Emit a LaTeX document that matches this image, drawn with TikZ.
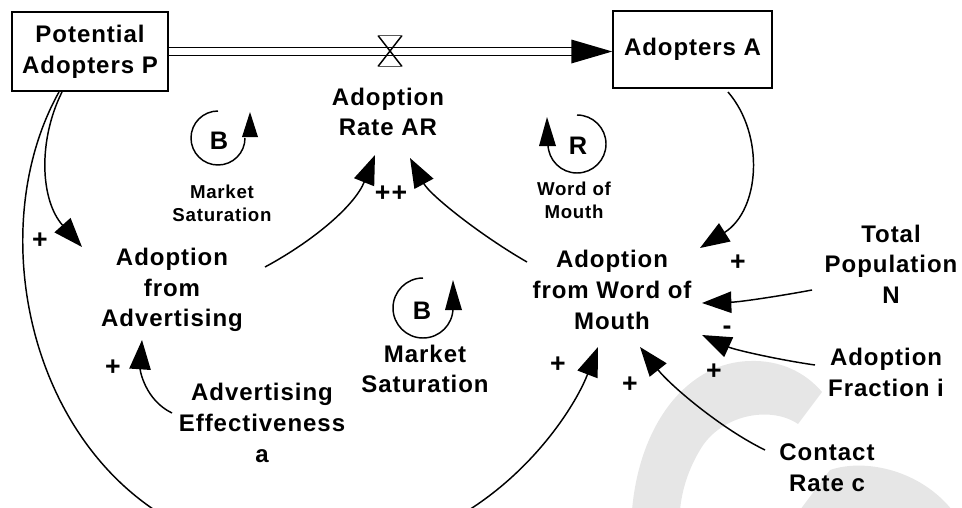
\documentclass[tikz,border=0pt]{standalone}
\usepackage{fontspec}
\newfontfamily\dgfont{Liberation Sans}[LetterSpace=4]
\newcommand\dgmain{\dgfont\bfseries\fontsize{18}{23}\selectfont}
\newcommand\dgsmall{\dgfont\bfseries\fontsize{14}{17}\selectfont}
\newcommand\dgpol{\dgfont\bfseries\fontsize{20}{22}\selectfont}
\newcommand\dgloop{\dgfont\bfseries\fontsize{19}{22}\selectfont}
\usetikzlibrary{arrows.meta,calc}
\definecolor{wmgray}{HTML}{E6E6E6}
\begin{document}
\begin{tikzpicture}[x=0.75pt,y=-0.75pt,
  stock/.style={draw, line width=1.1pt, inner sep=0pt, align=center, font=\dgmain},
  var/.style={align=center, font=\dgmain, inner sep=1pt},
  small/.style={align=center, font=\dgsmall, inner sep=1pt},
  pol/.style={font=\dgpol, inner sep=0pt},
  loopletter/.style={font=\dgloop, inner sep=0pt},
  cld/.style={line width=1.1pt, -{Triangle[length=22pt,width=16pt]}},
  loopline/.style={line width=1.1pt},
  pipe/.style={double, line width=1.1pt, double distance=4.6pt}]
\useasboundingbox (0,0) rectangle (962,507);
% watermark
\begin{scope}
  \clip (0,0) rectangle (962,507);
  \fill[wmgray] (632,510) .. controls (640,420) and (690,362) .. (750,361)
     .. controls (780,360) and (805,372) .. (822,392) -- (798,424)
     .. controls (770,405) and (720,415) .. (700,450)
     .. controls (688,470) and (682,490) .. (680,510) -- cycle;
  \fill[wmgray] (800,510) -- (830,470) .. controls (865,458) and (920,470) .. (952,510) -- cycle;
\end{scope}
% stocks
\node[stock, minimum width=117pt, minimum height=59.25pt] (pap) at (90,51.5) {Potential\\Adopters P};
\node[stock, minimum width=119.25pt, minimum height=57.75pt] (aa) at (692.5,49.5) {Adopters A};
% flow
\coordinate (flowtip) at (pap.east -| aa.west);
\draw[pipe] (pap.east) -- ($(flowtip)+(-38,0)$);
\fill ($(flowtip)+(-41,-12)$) -- (flowtip) -- ($(flowtip)+(-41,12)$) -- cycle;
\coordinate (valve) at (390,51.5);
\draw[line width=1.1pt] ($(valve)+(-12,-16)$) -- ($(valve)+(12,15)$)
                        ($(valve)+(12,-16)$) -- ($(valve)+(-12,15)$);
\draw[black!65, line width=0.8pt] ($(valve)+(-12,-16)$) -- ($(valve)+(12,-16)$)
                        ($(valve)+(-12,15)$) -- ($(valve)+(12,15)$);
% variables
\node[var] (ar) at (388,112) {Adoption\\Rate AR};
\node[var] (afa) at (172,290) {Adoption\\from\\Advertising};
\node[var] (awom) at (612,290) {Adoption\\from Word of\\Mouth};
\node[var] (ae) at (262,423) {Advertising\\Effectiveness\\a};
\node[var] (tpn) at (891,264) {Total\\Population\\N};
\node[var] (afi) at (886,372.5) {Adoption\\Fraction i};
\node[var] (crc) at (827,468) {Contact\\Rate c};
% loop markers
\coordinate (b1c) at (218,138);
\draw[loopline] ($(b1c)+(0,-27)$) arc[start angle=270, end angle=0, radius=27];
\fill ($(b1c)+(24,-1)$) -- ($(b1c)+(40,-1)$) -- ($(b1c)+(32,-26)$) -- cycle;
\node[loopletter] (b1) at ($(b1c)+(1,3)$) {B};
\node[small] (ms1) at (222,203) {Market\\Saturation};
\coordinate (rc) at (577,144);
\draw[loopline] ($(rc)+(0,-29)$) arc[start angle=270, end angle=540, radius=29];
\fill ($(rc)+(-38,2)$) -- ($(rc)+(-21,2)$) -- ($(rc)+(-30,-27)$) -- cycle;
\node[loopletter] (r1) at ($(rc)+(1,2)$) {R};
\node[small] (wom) at (574,200) {Word of\\Mouth};
\coordinate (b2c) at (423,308);
\draw[loopline] ($(b2c)+(0,-30)$) arc[start angle=270, end angle=0, radius=30];
\fill ($(b2c)+(22,2)$) -- ($(b2c)+(39,2)$) -- ($(b2c)+(30,-28)$) -- cycle;
\node[loopletter] (b2) at ($(b2c)+(-1,3)$) {B};
\node[var] (ms2) at (425,369) {Market\\Saturation};
% connectors
\draw[cld] ($(pap)+(-28,40.5)$) .. controls (38,140) and (40,200) .. ($(afa)+(-90,-43)$);
\begin{scope}
  \clip (0,0) rectangle (962,507);
  \draw[cld] ($(pap)+(-31,40.5)$) .. controls (-35,260) and (55,560) .. (315,555)
     .. controls (480,555) and (570,420) .. ($(awom)+(-14,57)$);
\end{scope}
\draw[cld] ($(afa)+(93,-23)$) .. controls (315,240) and (355,205) .. ($(ar)+(-13,43)$);
\draw[cld] ($(awom)+(-85,-28)$) .. controls (480,235) and (430,195) .. ($(ar)+(22,46)$);
\draw[cld] ($(aa)+(35.5,42.5)$) .. controls (765,135) and (760,210) .. ($(awom)+(88,-42)$);
\draw[cld] ($(tpn)+(-79,26)$) .. controls (780,296) and (740,302) .. ($(awom)+(90,13)$);
\draw[cld] ($(afi)+(-71,-7.5)$) .. controls (780,360) and (735,350) .. ($(awom)+(90,45)$);
\draw[cld] ($(crc)+(-62,-18)$) .. controls (720,428) and (670,385) .. ($(awom)+(28,57)$);
\draw[cld] ($(ae)+(-90,-10)$) .. controls (145,400) and (140,370) .. ($(afa)+(-30,50)$);
% polarities
\node[pol] (p1) at (40,241) {+};
\node[pol] (p2) at (391,194) {++};
\node[pol] (p3) at (738,263) {+};
\node[pol] (p4) at (727,330) {-};
\node[pol] (p5) at (714,372) {+};
\node[pol] (p6) at (630,385) {+};
\node[pol] (p7) at (558,365) {+};
\node[pol] (p8) at (113,368) {+};
\end{tikzpicture}
\end{document}
